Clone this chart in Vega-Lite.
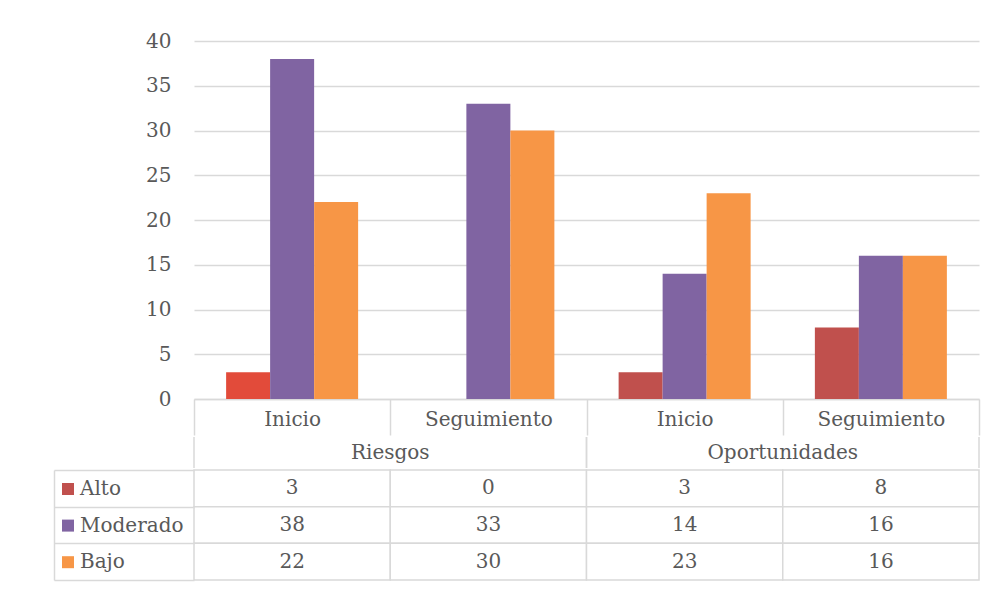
{
  "$schema": "https://vega.github.io/schema/vega-lite/v6.json",
  "padding": {"left": 53, "top": 31, "right": 5, "bottom": 4},
  "background": "white",
  "config": {
    "view": {"stroke": null},
    "font": "DejaVu Serif",
    "axis": {"labelFont": "DejaVu Serif", "labelFontSize": 20, "labelColor": "#595959"}
  },
  "datasets": {
    "valores": [
      {"grupo": "Riesgos", "fase": "Inicio", "columna": "Riesgos|Inicio", "nivel": "Alto", "valor": 3},
      {"grupo": "Riesgos", "fase": "Inicio", "columna": "Riesgos|Inicio", "nivel": "Moderado", "valor": 38},
      {"grupo": "Riesgos", "fase": "Inicio", "columna": "Riesgos|Inicio", "nivel": "Bajo", "valor": 22},
      {"grupo": "Riesgos", "fase": "Seguimiento", "columna": "Riesgos|Seguimiento", "nivel": "Alto", "valor": 0},
      {"grupo": "Riesgos", "fase": "Seguimiento", "columna": "Riesgos|Seguimiento", "nivel": "Moderado", "valor": 33},
      {"grupo": "Riesgos", "fase": "Seguimiento", "columna": "Riesgos|Seguimiento", "nivel": "Bajo", "valor": 30},
      {"grupo": "Oportunidades", "fase": "Inicio", "columna": "Oportunidades|Inicio", "nivel": "Alto", "valor": 3},
      {"grupo": "Oportunidades", "fase": "Inicio", "columna": "Oportunidades|Inicio", "nivel": "Moderado", "valor": 14},
      {"grupo": "Oportunidades", "fase": "Inicio", "columna": "Oportunidades|Inicio", "nivel": "Bajo", "valor": 23},
      {"grupo": "Oportunidades", "fase": "Seguimiento", "columna": "Oportunidades|Seguimiento", "nivel": "Alto", "valor": 8},
      {"grupo": "Oportunidades", "fase": "Seguimiento", "columna": "Oportunidades|Seguimiento", "nivel": "Moderado", "valor": 16},
      {"grupo": "Oportunidades", "fase": "Seguimiento", "columna": "Oportunidades|Seguimiento", "nivel": "Bajo", "valor": 16}
    ],
    "grupos": [{"grupo": "Riesgos"}, {"grupo": "Oportunidades"}]
  },
  "spacing": 0,
  "vconcat": [
    {
      "width": 785,
      "height": 358,
      "data": {"name": "valores"},
      "mark": {"type": "bar"},
      "encoding": {
        "x": {
          "field": "columna", "type": "nominal",
          "sort": ["Riesgos|Inicio", "Riesgos|Seguimiento", "Oportunidades|Inicio", "Oportunidades|Seguimiento"],
          "scale": {"paddingInner": 0, "paddingOuter": 0},
          "axis": {"title": null, "labelExpr": "split(datum.label, '|')[1]", "labelAngle": 0, "tickBand": "extent", "tickSize": 36, "tickColor": "#D9D9D9", "tickWidth": 1.5, "domainColor": "#D9D9D9", "domainWidth": 1.5, "labelPadding": -26, "grid": false}
        },
        "xOffset": {
          "field": "nivel", "type": "nominal", "sort": ["Alto", "Moderado", "Bajo"],
          "scale": {"paddingInner": 0, "paddingOuter": 0.73}
        },
        "y": {
          "field": "valor", "type": "quantitative",
          "scale": {"domain": [0, 40], "nice": false},
          "axis": {"title": null, "values": [0, 5, 10, 15, 20, 25, 30, 35, 40], "ticks": false, "domain": false, "labelPadding": 23, "gridColor": "#D9D9D9", "gridWidth": 1.5}
        },
        "color": {
          "field": "nivel", "type": "nominal",
          "scale": {"domain": ["Alto", "Moderado", "Bajo"], "range": ["#C0504D", "#8064A2", "#F79646"]},
          "condition": {"test": "datum.grupo === 'Riesgos' && datum.fase === 'Inicio' && datum.nivel === 'Alto'", "value": "#E24B3A"},
          "legend": {"orient": "none", "legendX": -136, "legendY": 438, "title": null, "direction": "vertical", "symbolType": "square", "symbolSize": 144, "symbolStrokeWidth": 0, "labelFont": "DejaVu Serif", "labelFontSize": 20, "labelColor": "#595959", "rowPadding": 16.6, "labelOffset": 2}
        }
      }
    },
    {
      "width": 785,
      "height": 31,
      "data": {"name": "grupos"},
      "layer": [
        {
          "mark": {"type": "rule", "stroke": "#D9D9D9", "strokeWidth": 1.5},
          "encoding": {"x": {"field": "grupo", "type": "nominal", "sort": ["Riesgos", "Oportunidades"], "bandPosition": 0, "scale": {"paddingInner": 0, "paddingOuter": 0}, "axis": null}}
        },
        {
          "mark": {"type": "rule", "stroke": "#D9D9D9", "strokeWidth": 1.5},
          "encoding": {"x": {"field": "grupo", "type": "nominal", "sort": ["Riesgos", "Oportunidades"], "bandPosition": 1, "axis": null}}
        },
        {
          "mark": {"type": "text", "font": "DejaVu Serif", "fontSize": 20, "color": "#595959"},
          "encoding": {"x": {"field": "grupo", "type": "nominal", "sort": ["Riesgos", "Oportunidades"], "axis": null}, "text": {"field": "grupo"}}
        }
      ]
    },
    {
      "width": 785,
      "height": 110,
      "data": {"name": "valores"},
      "encoding": {
        "x": {
          "field": "columna", "type": "nominal",
          "sort": ["Riesgos|Inicio", "Riesgos|Seguimiento", "Oportunidades|Inicio", "Oportunidades|Seguimiento"],
          "scale": {"paddingInner": 0, "paddingOuter": 0}, "axis": null
        },
        "y": {
          "field": "nivel", "type": "nominal", "sort": ["Alto", "Moderado", "Bajo"],
          "scale": {"paddingInner": 0, "paddingOuter": 0},
          "axis": {"title": null, "labels": false, "tickBand": "extent", "tickSize": -140, "offset": 140, "tickColor": "#D9D9D9", "tickWidth": 1.5, "domainColor": "#D9D9D9", "domainWidth": 1.5}
        }
      },
      "layer": [
        {"mark": {"type": "rect", "fill": "white", "stroke": "#D9D9D9", "strokeWidth": 1.5}},
        {"mark": {"type": "text", "font": "DejaVu Serif", "fontSize": 20, "color": "#595959"}, "encoding": {"text": {"field": "valor", "type": "quantitative"}}}
      ]
    }
  ]
}
